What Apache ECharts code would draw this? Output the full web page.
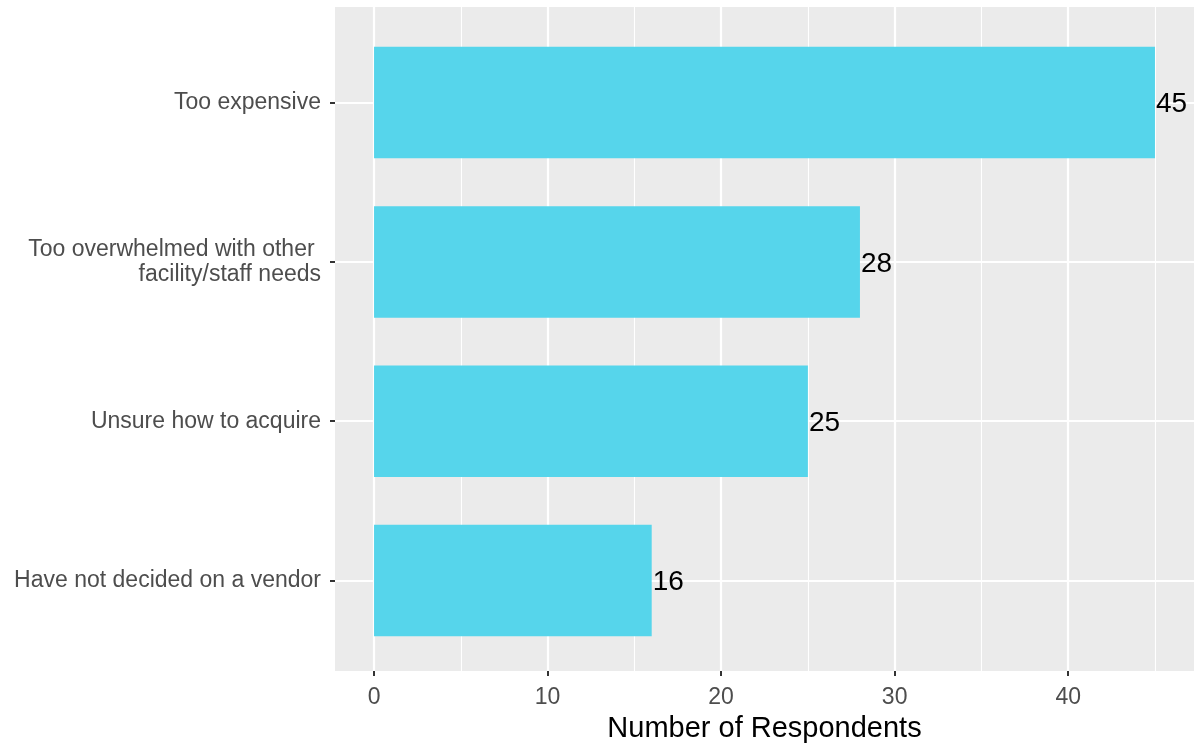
<!DOCTYPE html>
<html>
<head>
<meta charset="utf-8">
<title>Barriers to adoption</title>
<script src="https://cdn.jsdelivr.net/npm/echarts@6/dist/echarts.min.js"></script>
<style>
  html, body { margin: 0; padding: 0; background: #ffffff; }
  #chart { width: 1196px; height: 748px; }
</style>
</head>
<body>
<div id="chart"></div>
<script>
// Reasons given, listed top to bottom
const categories = [
  'Too expensive',
  'Too overwhelmed with other \nfacility/staff needs',
  'Unsure how to acquire',
  'Have not decided on a vendor'
];
const respondents = [45, 28, 25, 16];

// x-axis breaks
const majorBreaks = [0, 10, 20, 30, 40];
const minorBreaks = [5, 15, 25, 35, 45];
const xMin = -2.25;
const xMax = 47.25;

const FONT = '"Liberation Sans", Arial, Helvetica, sans-serif';

const chart = echarts.init(document.getElementById('chart'), null, { renderer: 'canvas' });

const panel = { left: 335, top: 7, width: 859, height: 669 };

chart.setOption({
  animation: false,
  backgroundColor: '#ffffff',
  grid: [
    // grey panel with vertical grid lines and x axis
    {
      left: panel.left, top: panel.top, width: panel.width, height: panel.height,
      show: true, backgroundColor: '#EBEBEB', borderWidth: 0
    },
    // bar area: category centres inset from the panel edges
    {
      left: panel.left, top: 102.6, width: panel.width, height: 477.9,
      show: false
    }
  ],
  xAxis: [
    {
      gridIndex: 0, type: 'value', min: xMin, max: xMax,
      axisLine: { show: false, onZero: false },
      axisTick: { show: true, customValues: majorBreaks, length: 5, lineStyle: { color: '#333333', width: 2 } },
      axisLabel: { show: true, customValues: majorBreaks, margin: 15, color: '#4D4D4D', fontSize: 23, fontFamily: FONT },
      splitLine: { show: true, lineStyle: { color: '#ffffff', width: 2.2 } },
      name: 'Number of Respondents',
      nameLocation: 'middle',
      nameGap: 43,
      nameTextStyle: { color: '#000000', fontSize: 29, fontFamily: FONT }
    },
    {
      gridIndex: 0, type: 'value', min: xMin, max: xMax,
      axisLine: { show: false, onZero: false },
      axisTick: { show: false, customValues: minorBreaks },
      axisLabel: { show: false, customValues: minorBreaks },
      splitLine: { show: true, lineStyle: { color: '#ffffff', width: 1.1 } }
    },
    {
      gridIndex: 1, type: 'value', min: xMin, max: xMax, show: false,
      axisLine: { onZero: false },
      splitLine: { show: false }
    }
  ],
  yAxis: [
    { gridIndex: 0, type: 'value', min: 0, max: 1, show: false, axisLine: { onZero: false }, splitLine: { show: false } },
    {
      gridIndex: 1, type: 'category', data: categories, inverse: true, boundaryGap: false,
      position: 'left',
      axisLine: { show: false, onZero: false },
      axisTick: { show: true, length: 5, lineStyle: { color: '#333333', width: 2 } },
      axisLabel: {
        margin: 14, color: '#4D4D4D', fontSize: 23, fontFamily: FONT,
        lineHeight: 25, align: 'right'
      },
      splitLine: { show: true, lineStyle: { color: '#ffffff', width: 2.2 } }
    }
  ],
  series: [
    {
      type: 'bar',
      xAxisIndex: 2,
      yAxisIndex: 1,
      data: respondents,
      barWidth: '70%',
      clip: false,
      itemStyle: { color: '#56D5EB' },
      label: {
        show: true, position: 'right', distance: 1, offset: [0, 2],
        color: '#000000', fontSize: 28, fontFamily: FONT
      },
      z: 3
    }
  ]
});
</script>
</body>
</html>
